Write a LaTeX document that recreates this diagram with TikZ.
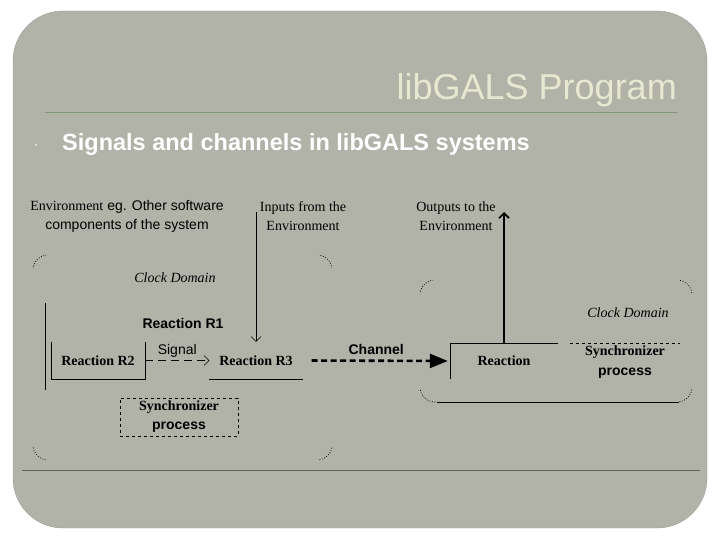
\documentclass[tikz,border=0pt]{standalone}
\usepackage{fontspec}
\setmainfont{Liberation Sans}
\newfontfamily\tnr{Liberation Serif}
\usetikzlibrary{arrows.meta}
\definecolor{slide}{HTML}{B1B2A8}
\definecolor{slideedge}{HTML}{9C9D94}
\definecolor{titletxt}{HTML}{E8E8D2}
\definecolor{titleline}{HTML}{7F9779}
\definecolor{footline}{HTML}{5E5F58}
\begin{document}
\begin{tikzpicture}[x=1pt, y=-1pt,
  txt/.style={font=\fontsize{14}{19}\selectfont, align=center, inner sep=0pt},
  serif/.style={txt, font=\fontsize{14}{19}\selectfont\tnr},
  reac/.style={serif, font=\fontsize{14}{19}\selectfont\tnr\bfseries, minimum height=37pt},
  dom/.style={line width=0.6pt, dash pattern=on 1pt off 1.5pt, rounded corners=15pt},
  barb/.style={-{Straight Barb[length=5pt,width=10pt]}}]

\useasboundingbox (0,0) rectangle (720,540);

\fill[slide, draw=slideedge, rounded corners=50pt] (13,11) rectangle (707,528);

\node[anchor=base east, text=titletxt, font=\fontsize{36}{40}\selectfont, inner sep=0pt]
  (title) at (677,100) {libGALS Program};
\draw[titleline, line width=0.8pt] (45,112) -- (677,112);
\fill[titletxt] (36,145) circle (1.2pt);
\node[anchor=base west, text=white, font=\fontsize{23.5}{28}\selectfont\bfseries, inner sep=0pt]
  (sub) at (62,151) {Signals and channels in libGALS systems};
\draw[footline, line width=1pt] (22,470) -- (700,470);

% clock domains, only the corners show
\begin{scope}
  \clip (29,251) rectangle (46,268) (319,251) rectangle (336,268)
        (29,447) rectangle (46,464) (319,447) rectangle (336,464);
  \draw[dom] (33,255) rectangle (332,460);
\end{scope}
\begin{scope}
  \clip (416,276) rectangle (433,293) (679,276) rectangle (696,293)
        (416,389) rectangle (437,406) (679,389) rectangle (696,406);
  \draw[dom] (420,280) rectangle (692,402);
\end{scope}
\draw (437,402) -- (679,402);

\node[txt] (env) at (127,216.5) {{\tnr Environment} eg. Other software\\components of the system};
\node[serif] (inputs) at (303,216.5) {Inputs from the\\Environment};
\node[serif] (outputs) at (456,216.5) {Outputs to the\\Environment};
\node[serif, font=\fontsize{14}{19}\selectfont\tnr\itshape] (clockL) at (175,278) {Clock Domain};
\node[serif, font=\fontsize{14}{19}\selectfont\tnr\itshape] (clockR) at (628,313) {Clock Domain};

\draw (45,303) -- (45,390);
\node[txt, font=\fontsize{14}{19}\selectfont\bfseries] (r1) at (183,323) {Reaction R1};

\node[reac, minimum width=94pt] (r2) at (98,360.5) {Reaction R2};
\node[reac, minimum width=93pt] (r3) at (256,360.5) {Reaction R3};
\node[reac, minimum width=108pt, minimum height=36pt] (react) at (504,361) {Reaction};
\draw (r2.north west) -- (r2.south west) -- (r2.south east) -- (r2.north east);
\draw (r3.south west) -- (r3.south east);
\draw (react.south west) -- (react.north west) -- (react.north east);

\node[txt, draw, dashed, minimum width=118pt, minimum height=38pt, font=\fontsize{14}{19}\selectfont\bfseries]
  (syncL) at (179,417) {{\tnr Synchronizer}\\process};
\node[txt, minimum width=110pt, minimum height=38pt, font=\fontsize{14}{20}\selectfont\bfseries]
  (syncR) at (625,362) {{\tnr Synchronizer}\\process};
\draw[dashed] (syncR.north west) -- (syncR.north east);

\coordinate (inTop) at (256,212);
\coordinate (outTop) at (504,212);
\draw[barb] (inTop) -- (r3.north);
\draw[barb, line width=1.6pt] (react.north) -- (outTop);

\draw[barb, dash pattern=on 8pt off 5pt] (r2.east) -- (r3.west)
  node[midway, above=3pt, txt] (signal) {Signal};
\draw[-{Triangle[length=18pt,width=14pt]}, line width=2.6pt, dash pattern=on 6pt off 3.5pt,
  shorten <=9pt, shorten >=2pt] (r3.east) -- (react.west)
  node[midway, above=5pt, txt, font=\fontsize{14}{19}\selectfont\bfseries] (channel) {Channel};

\end{tikzpicture}
\end{document}
